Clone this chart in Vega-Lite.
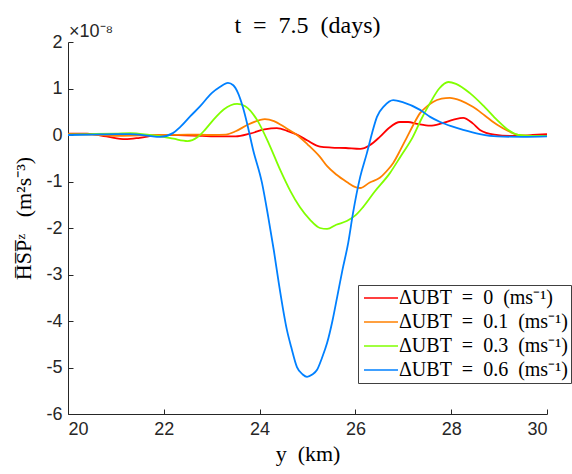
{
  "$schema": "https://vega.github.io/schema/vega-lite/v6.json",
  "width": 479,
  "height": 372,
  "autosize": "none",
  "padding": {"left": 68, "top": 42, "right": 25, "bottom": 60},
  "background": "white",
  "config": {
    "view": {"stroke": null},
    "axis": {
      "grid": false,
      "domainColor": "#262626",
      "tickColor": "#262626",
      "labelColor": "#262626",
      "labelFont": "Liberation Sans",
      "labelFontSize": 18,
      "tickSize": -5,
      "domainWidth": 1,
      "tickWidth": 1,
      "titleFont": "Liberation Serif",
      "titleFontSize": 22,
      "titleFontWeight": "normal",
      "titleColor": "black"
    }
  },
  "title": {
    "text": "t\u00a0 =\u00a0 7.5\u00a0 (days)",
    "font": "Liberation Serif",
    "fontSize": 24,
    "fontWeight": "normal",
    "color": "black",
    "anchor": "middle",
    "frame": "group",
    "offset": 8,
    "dy": 23
  },
  "datasets": {
    "curves": [
      {"s": "0", "x": 20, "y": 0.03}, {"s": "0", "x": 20.4, "y": 0.03}, {"s": "0", "x": 20.8, "y": -0.03}, {"s": "0", "x": 21.2, "y": -0.09}, {"s": "0", "x": 21.5, "y": -0.06}, {"s": "0", "x": 21.9, "y": 0.0}, {"s": "0", "x": 22.3, "y": 0.0}, {"s": "0", "x": 22.8, "y": -0.02}, {"s": "0", "x": 23.2, "y": -0.03}, {"s": "0", "x": 23.5, "y": -0.03}, {"s": "0", "x": 23.8, "y": 0.03}, {"s": "0", "x": 24.1, "y": 0.12}, {"s": "0", "x": 24.36, "y": 0.15}, {"s": "0", "x": 24.6, "y": 0.08}, {"s": "0", "x": 24.8, "y": 0.0}, {"s": "0", "x": 25.0, "y": -0.12}, {"s": "0", "x": 25.26, "y": -0.25}, {"s": "0", "x": 25.5, "y": -0.27}, {"s": "0", "x": 25.8, "y": -0.28}, {"s": "0", "x": 26.1, "y": -0.3}, {"s": "0", "x": 26.3, "y": -0.22}, {"s": "0", "x": 26.51, "y": -0.04}, {"s": "0", "x": 26.7, "y": 0.15}, {"s": "0", "x": 26.93, "y": 0.28}, {"s": "0", "x": 27.1, "y": 0.28}, {"s": "0", "x": 27.29, "y": 0.24}, {"s": "0", "x": 27.56, "y": 0.2}, {"s": "0", "x": 27.8, "y": 0.25}, {"s": "0", "x": 28.05, "y": 0.33}, {"s": "0", "x": 28.25, "y": 0.37}, {"s": "0", "x": 28.45, "y": 0.25}, {"s": "0", "x": 28.6, "y": 0.11}, {"s": "0", "x": 28.9, "y": 0.01}, {"s": "0", "x": 29.3, "y": -0.02}, {"s": "0", "x": 29.7, "y": 0.0}, {"s": "0", "x": 30, "y": 0.02},

      {"s": "0.1", "x": 20, "y": 0.02}, {"s": "0.1", "x": 20.5, "y": 0.01}, {"s": "0.1", "x": 21, "y": -0.02}, {"s": "0.1", "x": 21.5, "y": -0.01}, {"s": "0.1", "x": 22, "y": 0.0}, {"s": "0.1", "x": 22.5, "y": 0.01}, {"s": "0.1", "x": 23.0, "y": 0.0}, {"s": "0.1", "x": 23.3, "y": 0.01}, {"s": "0.1", "x": 23.5, "y": 0.08}, {"s": "0.1", "x": 23.75, "y": 0.22}, {"s": "0.1", "x": 24.0, "y": 0.32}, {"s": "0.1", "x": 24.11, "y": 0.34}, {"s": "0.1", "x": 24.3, "y": 0.3}, {"s": "0.1", "x": 24.55, "y": 0.15}, {"s": "0.1", "x": 24.78, "y": 0.0}, {"s": "0.1", "x": 25.0, "y": -0.2}, {"s": "0.1", "x": 25.26, "y": -0.47}, {"s": "0.1", "x": 25.41, "y": -0.67}, {"s": "0.1", "x": 25.6, "y": -0.85}, {"s": "0.1", "x": 25.82, "y": -1.01}, {"s": "0.1", "x": 26.0, "y": -1.12}, {"s": "0.1", "x": 26.1, "y": -1.14}, {"s": "0.1", "x": 26.3, "y": -1.02}, {"s": "0.1", "x": 26.51, "y": -0.92}, {"s": "0.1", "x": 26.65, "y": -0.78}, {"s": "0.1", "x": 26.79, "y": -0.6}, {"s": "0.1", "x": 26.95, "y": -0.3}, {"s": "0.1", "x": 27.08, "y": -0.04}, {"s": "0.1", "x": 27.2, "y": 0.2}, {"s": "0.1", "x": 27.35, "y": 0.47}, {"s": "0.1", "x": 27.5, "y": 0.62}, {"s": "0.1", "x": 27.62, "y": 0.71}, {"s": "0.1", "x": 27.8, "y": 0.78}, {"s": "0.1", "x": 27.97, "y": 0.8}, {"s": "0.1", "x": 28.2, "y": 0.74}, {"s": "0.1", "x": 28.46, "y": 0.6}, {"s": "0.1", "x": 28.7, "y": 0.42}, {"s": "0.1", "x": 28.96, "y": 0.22}, {"s": "0.1", "x": 29.2, "y": 0.08}, {"s": "0.1", "x": 29.4, "y": 0.0}, {"s": "0.1", "x": 29.7, "y": -0.02}, {"s": "0.1", "x": 30, "y": -0.02},

      {"s": "0.3", "x": 20, "y": 0.01}, {"s": "0.3", "x": 20.5, "y": 0.02}, {"s": "0.3", "x": 21, "y": 0.03}, {"s": "0.3", "x": 21.3, "y": 0.04}, {"s": "0.3", "x": 21.7, "y": 0.0}, {"s": "0.3", "x": 22, "y": -0.04}, {"s": "0.3", "x": 22.2, "y": -0.08}, {"s": "0.3", "x": 22.5, "y": -0.13}, {"s": "0.3", "x": 22.7, "y": -0.05}, {"s": "0.3", "x": 22.85, "y": 0.1}, {"s": "0.3", "x": 23.03, "y": 0.32}, {"s": "0.3", "x": 23.25, "y": 0.55}, {"s": "0.3", "x": 23.53, "y": 0.67}, {"s": "0.3", "x": 23.7, "y": 0.62}, {"s": "0.3", "x": 23.95, "y": 0.32}, {"s": "0.3", "x": 24.2, "y": -0.2}, {"s": "0.3", "x": 24.43, "y": -0.75}, {"s": "0.3", "x": 24.64, "y": -1.2}, {"s": "0.3", "x": 24.84, "y": -1.55}, {"s": "0.3", "x": 25.05, "y": -1.82}, {"s": "0.3", "x": 25.26, "y": -2.0}, {"s": "0.3", "x": 25.41, "y": -2.02}, {"s": "0.3", "x": 25.6, "y": -1.93}, {"s": "0.3", "x": 25.82, "y": -1.85}, {"s": "0.3", "x": 26.0, "y": -1.73}, {"s": "0.3", "x": 26.16, "y": -1.55}, {"s": "0.3", "x": 26.4, "y": -1.22}, {"s": "0.3", "x": 26.72, "y": -0.82}, {"s": "0.3", "x": 26.95, "y": -0.45}, {"s": "0.3", "x": 27.2, "y": -0.04}, {"s": "0.3", "x": 27.38, "y": 0.35}, {"s": "0.3", "x": 27.56, "y": 0.69}, {"s": "0.3", "x": 27.75, "y": 1.0}, {"s": "0.3", "x": 27.94, "y": 1.14}, {"s": "0.3", "x": 28.1, "y": 1.1}, {"s": "0.3", "x": 28.39, "y": 0.9}, {"s": "0.3", "x": 28.7, "y": 0.6}, {"s": "0.3", "x": 28.96, "y": 0.32}, {"s": "0.3", "x": 29.2, "y": 0.1}, {"s": "0.3", "x": 29.4, "y": 0.0}, {"s": "0.3", "x": 29.7, "y": -0.02}, {"s": "0.3", "x": 30, "y": -0.02},

      {"s": "0.6", "x": 20, "y": 0.0}, {"s": "0.6", "x": 20.5, "y": 0.01}, {"s": "0.6", "x": 21, "y": 0.02}, {"s": "0.6", "x": 21.3, "y": 0.02}, {"s": "0.6", "x": 21.7, "y": -0.02}, {"s": "0.6", "x": 21.92, "y": -0.04}, {"s": "0.6", "x": 22.19, "y": 0.04}, {"s": "0.6", "x": 22.34, "y": 0.17}, {"s": "0.6", "x": 22.55, "y": 0.4}, {"s": "0.6", "x": 22.76, "y": 0.62}, {"s": "0.6", "x": 23.0, "y": 0.9}, {"s": "0.6", "x": 23.17, "y": 1.03}, {"s": "0.6", "x": 23.34, "y": 1.12}, {"s": "0.6", "x": 23.45, "y": 1.07}, {"s": "0.6", "x": 23.55, "y": 0.9}, {"s": "0.6", "x": 23.65, "y": 0.6}, {"s": "0.6", "x": 23.75, "y": 0.2}, {"s": "0.6", "x": 23.86, "y": -0.3}, {"s": "0.6", "x": 24.05, "y": -1.03}, {"s": "0.6", "x": 24.18, "y": -1.76}, {"s": "0.6", "x": 24.3, "y": -2.5}, {"s": "0.6", "x": 24.4, "y": -3.18}, {"s": "0.6", "x": 24.57, "y": -4.19}, {"s": "0.6", "x": 24.66, "y": -4.56}, {"s": "0.6", "x": 24.78, "y": -4.99}, {"s": "0.6", "x": 24.9, "y": -5.15}, {"s": "0.6", "x": 24.99, "y": -5.2}, {"s": "0.6", "x": 25.1, "y": -5.15}, {"s": "0.6", "x": 25.2, "y": -5.05}, {"s": "0.6", "x": 25.3, "y": -4.8}, {"s": "0.6", "x": 25.41, "y": -4.47}, {"s": "0.6", "x": 25.52, "y": -4.0}, {"s": "0.6", "x": 25.62, "y": -3.48}, {"s": "0.6", "x": 25.73, "y": -2.9}, {"s": "0.6", "x": 25.85, "y": -2.32}, {"s": "0.6", "x": 25.95, "y": -1.68}, {"s": "0.6", "x": 26.1, "y": -0.9}, {"s": "0.6", "x": 26.24, "y": -0.39}, {"s": "0.6", "x": 26.35, "y": 0.05}, {"s": "0.6", "x": 26.45, "y": 0.39}, {"s": "0.6", "x": 26.6, "y": 0.62}, {"s": "0.6", "x": 26.79, "y": 0.75}, {"s": "0.6", "x": 27.0, "y": 0.7}, {"s": "0.6", "x": 27.35, "y": 0.54}, {"s": "0.6", "x": 27.56, "y": 0.39}, {"s": "0.6", "x": 27.77, "y": 0.28}, {"s": "0.6", "x": 28.0, "y": 0.19}, {"s": "0.6", "x": 28.25, "y": 0.11}, {"s": "0.6", "x": 28.6, "y": 0.02}, {"s": "0.6", "x": 28.96, "y": -0.03}, {"s": "0.6", "x": 29.5, "y": -0.04}, {"s": "0.6", "x": 30, "y": -0.03}
    ],
    "exponent": [{"x": 20, "y": 2, "t": "×10⁻⁸"}]
  },
  "layer": [
    {
      "data": {"name": "curves"},
      "mark": {"type": "line", "strokeWidth": 1.8, "interpolate": "monotone", "clip": true},
      "encoding": {
        "x": {
          "field": "x", "type": "quantitative",
          "scale": {"domain": [20, 30], "nice": false, "zero": false},
          "axis": {"values": [20, 22, 24, 26, 28, 30], "title": "y\u00a0 (km)", "labelPadding": 11, "titlePadding": 5, "labelExpr": "'' + datum.value"}
        },
        "y": {
          "field": "y", "type": "quantitative",
          "scale": {"domain": [-6, 2], "nice": false, "zero": false},
          "axis": {"values": [-6, -5, -4, -3, -2, -1, 0, 1, 2], "title": "H̅S̅P̅ᶻ\u00a0\u00a0 (m²s⁻³)", "titleY": 176, "labelPadding": 11, "titlePadding": 10, "labelExpr": "'' + datum.value"}
        },
        "color": {
          "field": "s", "type": "nominal",
          "scale": {"domain": ["0", "0.1", "0.3", "0.6"], "range": ["#ff0000", "#ff8000", "#80ff00", "#0080ff"]},
          "legend": {
            "orient": "none",
            "legendX": 290,
            "legendY": 243,
            "title": null,
            "fillColor": "white",
            "strokeColor": "#404040",
            "padding": 3,
            "symbolType": "M-2,0H2",
            "symbolSize": 289,
            "symbolOffset": 10,
            "symbolStrokeWidth": 1.6,
            "labelOffset": 8,
            "labelFont": "Liberation Serif",
            "labelFontSize": 20,
            "labelColor": "black",
            "labelLimit": 300,
            "rowPadding": 4,
            "labelExpr": "'ΔUBT\u00a0 =\u00a0 ' + datum.label + '\u00a0 (ms⁻¹)'"
          }
        }
      }
    },
    {
      "data": {"name": "exponent"},
      "mark": {"type": "text", "align": "left", "baseline": "alphabetic", "dx": 1, "dy": -5, "font": "Liberation Sans", "fontSize": 18, "color": "#262626"},
      "encoding": {
        "x": {"field": "x", "type": "quantitative"},
        "y": {"field": "y", "type": "quantitative"},
        "text": {"field": "t"}
      }
    }
  ]
}
